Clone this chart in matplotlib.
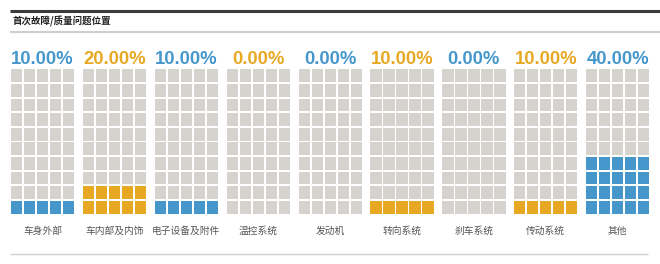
import matplotlib
matplotlib.use("Agg")
import matplotlib.pyplot as plt
from matplotlib.patches import Rectangle

plt.rcParams['font.family'] = ['Noto Sans CJK SC', 'DejaVu Sans']

title = "首次故障/质量问题位置"
categories = ["车身外部", "车内部及内饰", "电子设备及附件", "温控系统", "发动机",
              "转向系统", "刹车系统", "传动系统", "其他"]
percents = [10.0, 20.0, 10.0, 0.0, 0.0, 10.0, 0.0, 10.0, 40.0]

blue = "#4597cb"
orange = "#e7a824"
gray = "#d6d3cf"
colors = [blue if i % 2 == 0 else orange for i in range(len(categories))]

n_rows, n_cols = 10, 5

fig = plt.figure(figsize=(6.6, 2.64), dpi=100)
ax = fig.add_axes([0, 0, 1, 1])
ax.set_xlim(0, 660)
ax.set_ylim(264, 0)
ax.axis("off")

# header lines and title
ax.plot([10, 660], [11, 11], color="#3a3a3a", lw=2.2, solid_capstyle="butt")
ax.plot([10, 660], [31.5, 31.5], color="#cfcfcf", lw=1.5, solid_capstyle="butt")
ax.text(13, 21.5, title, fontsize=6.8, fontweight="bold", color="#222222",
        va="center", ha="left")
ax.plot([10, 648], [254, 254], color="#d0d0d0", lw=1.0, solid_capstyle="butt")

x0, pitch = 10, 71.9
grid_w, top, bottom = 65, 68.5, 214.5
cw = grid_w / n_cols
ch = (bottom - top) / n_rows
gap = 1.8

for i, (cat, pct) in enumerate(zip(categories, percents)):
    gx = x0 + i * pitch
    filled = int(round(pct / 100 * n_rows * n_cols))
    for k in range(n_rows * n_cols):
        r = k // n_cols          # row from bottom
        c = k % n_cols
        fc = colors[i] if k < filled else gray
        ax.add_patch(Rectangle((gx + c * cw + gap / 2, bottom - (r + 1) * ch + gap / 2),
                               cw - gap, ch - gap, facecolor=fc, edgecolor="none"))
    ax.text(gx + grid_w / 2, 59, f"{pct:.2f}%", fontsize=13.3, fontweight="bold",
            color=colors[i], ha="center", va="center", family="Liberation Sans")
    ax.text(gx + grid_w / 2, 231, cat, fontsize=7.0, color="#555555",
            ha="center", va="center")

fig.savefig("out.png", dpi=100)
